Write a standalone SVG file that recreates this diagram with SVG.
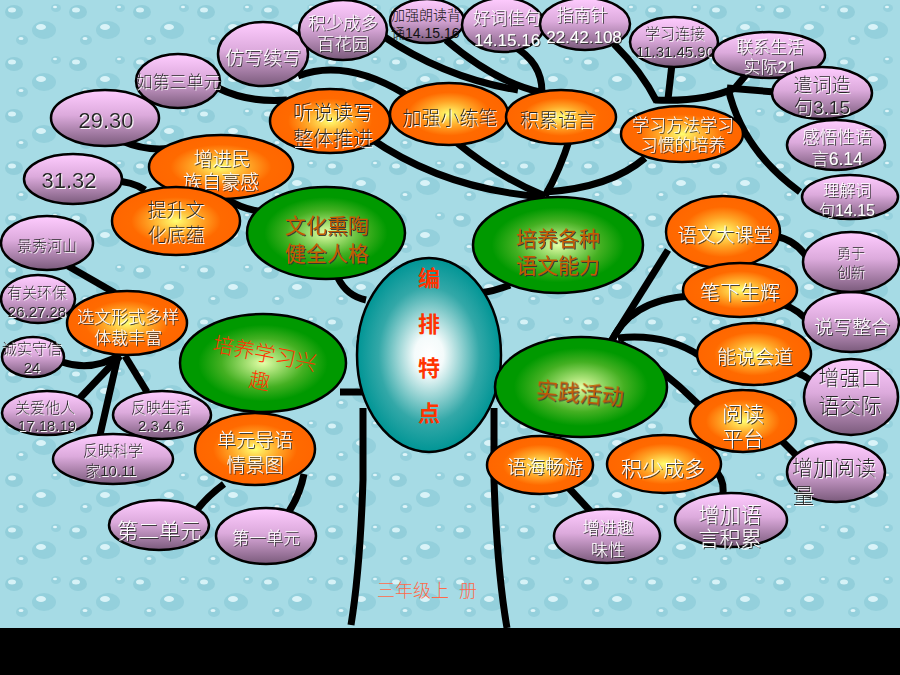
<svg xmlns="http://www.w3.org/2000/svg" width="900" height="675" viewBox="0 0 900 675">
<defs>
<pattern id="drops" width="64" height="52" patternUnits="userSpaceOnUse">
<rect width="64" height="52" fill="#a6dbe5"/>
<ellipse cx="14" cy="12" rx="9" ry="7" fill="#92ceda"/>
<ellipse cx="12" cy="10" rx="4" ry="2.5" fill="#d6f2f7"/>
<ellipse cx="44" cy="30" rx="12" ry="9" fill="#94d0dc"/>
<ellipse cx="41" cy="27" rx="5" ry="3" fill="#d9f3f8"/>
<ellipse cx="22" cy="40" rx="6" ry="5" fill="#95d0dc"/>
<ellipse cx="21" cy="38.5" rx="2.5" ry="1.6" fill="#dff5f9"/>
<ellipse cx="56" cy="8" rx="5" ry="4" fill="#96d1dd"/>
<ellipse cx="55" cy="7" rx="2" ry="1.3" fill="#e0f5f9"/>
</pattern>
<radialGradient id="gOrange" cx="50%" cy="50%" r="50%">
<stop offset="0" stop-color="#ffff70"/>
<stop offset="0.4" stop-color="#ffa526"/>
<stop offset="0.7" stop-color="#ff6a00"/>
<stop offset="1" stop-color="#ff6600"/>
</radialGradient>
<radialGradient id="gGreen" cx="50%" cy="50%" r="50%">
<stop offset="0" stop-color="#e4ffa8"/>
<stop offset="0.5" stop-color="#44b022"/>
<stop offset="0.78" stop-color="#009900"/>
<stop offset="1" stop-color="#009900"/>
</radialGradient>
<radialGradient id="gTeal" cx="50%" cy="50%" r="50%">
<stop offset="0" stop-color="#ffffff"/>
<stop offset="0.2" stop-color="#f4fbfb"/>
<stop offset="0.7" stop-color="#33a8a8"/>
<stop offset="1" stop-color="#009595"/>
</radialGradient>
<linearGradient id="gPink" x1="0" y1="0" x2="0" y2="1">
<stop offset="0" stop-color="#ffccff"/>
<stop offset="0.45" stop-color="#dcaadc"/>
<stop offset="1" stop-color="#7a5a7b"/>
</linearGradient>
<filter id="shDark" x="-10%" y="-20%" width="120%" height="140%">
<feDropShadow dx="1" dy="1" stdDeviation="0.4" flood-color="#333333" flood-opacity="0.9"/>
</filter>
<filter id="shLight" x="-10%" y="-20%" width="120%" height="140%">
<feDropShadow dx="1" dy="1" stdDeviation="0.4" flood-color="#ffffff" flood-opacity="0.95"/>
</filter>
<style>
text{font-family:"Liberation Sans","Noto Sans CJK SC",sans-serif;text-anchor:middle;font-weight:300;}
.ell{stroke:#000;stroke-width:2.5;}
.or{fill:url(#gOrange);}
.gr{fill:url(#gGreen);}
.pk{fill:url(#gPink);}
.tl{fill:url(#gTeal);}
.wt{fill:#ffffff;filter:url(#shDark);}
.dk{fill:#262626;filter:url(#shLight);}
.gt{fill:#c45c00;filter:url(#shDark);font-weight:400;}
.rd{fill:#ff3300;}
.rdb{fill:#ff3300;font-weight:700;font-size:22px;}
.con path{fill:none;stroke:#000;stroke-width:7;}
</style>
</defs>
<rect x="0" y="0" width="900" height="675" fill="url(#drops)"/>

<g id="connectors" class="con">
<path d="M363,408 L363,480 Q360,570 351,625" stroke-width="8"/>
<path d="M494,408 L494,480 Q497,570 507,628" stroke-width="8"/>
<path d="M298,76 Q345,58 405,94"/>
<path d="M383,36 Q445,78 518,90"/>
<path d="M446,40 Q495,82 540,92"/>
<path d="M513,46 Q542,62 542,92"/>
<path d="M218,88 Q248,103 287,100"/>
<path d="M122,141 Q150,153 178,147"/>
<path d="M112,181 Q132,181 145,190"/>
<path d="M224,198 Q248,212 268,212"/>
<path d="M370,138 Q445,190 545,197"/>
<path d="M456,142 Q500,178 545,196"/>
<path d="M570,138 Q560,170 545,196"/>
<path d="M645,158 Q610,188 545,192"/>
<path d="M614,44 Q642,72 657,102"/>
<path d="M672,64 L668,99"/>
<path d="M655,100 Q705,102 735,88 L746,75"/>
<path d="M727,88 L775,92"/>
<path d="M728,88 Q742,150 800,192"/>
<path d="M338,278 Q347,296 366,300"/>
<path d="M480,293 Q495,291 510,285"/>
<path d="M340,392 L365,392"/>
<path d="M608,346 L668,250"/>
<path d="M610,345 Q628,300 690,296"/>
<path d="M618,338 Q665,333 700,356"/>
<path d="M620,343 Q662,368 698,404"/>
<path d="M775,236 Q795,240 806,256"/>
<path d="M782,304 Q800,310 810,324"/>
<path d="M795,372 Q812,378 824,394"/>
<path d="M782,441 L803,462"/>
<path d="M567,486 L592,513"/>
<path d="M717,472 Q726,484 722,498"/>
<path d="M68,266 L115,293"/>
<path d="M62,362 Q92,372 120,355"/>
<path d="M80,398 L120,356"/>
<path d="M100,435 L118,356"/>
<path d="M147,392 L125,356"/>
<path d="M224,484 Q205,498 194,514"/>
<path d="M304,474 Q300,495 288,513"/>
</g>

<g id="center">
<ellipse class="ell tl" cx="429" cy="355" rx="72" ry="97"/>
<text class="rdb" x="429" y="286">编</text>
<text class="rdb" x="429" y="332">排</text>
<text class="rdb" x="429" y="376">特</text>
<text class="rdb" x="429" y="421">点</text>
</g>

<g id="n-wenhua">
<ellipse class="ell gr" cx="326" cy="233" rx="79" ry="46"/>
<text class="gt" x="327" y="233" font-size="21">文化熏陶</text>
<text class="gt" x="327" y="261" font-size="21">健全人格</text>
</g>
<g id="n-peiyang">
<ellipse class="ell gr" cx="558" cy="245" rx="85" ry="48"/>
<text class="gt" x="558" y="246" font-size="21">培养各种</text>
<text class="gt" x="558" y="273" font-size="21">语文能力</text>
</g>
<g id="n-xingqu">
<ellipse class="ell gr" cx="263" cy="363" rx="83" ry="49"/>
<g transform="rotate(11 263 363)">
<text class="rd" x="263" y="361" font-size="21">培养学习兴</text>
<text class="rd" x="263" y="389" font-size="21">趣</text>
</g>
</g>
<g id="n-shijian">
<ellipse class="ell gr" cx="581" cy="387" rx="86" ry="50"/>
<text class="gt" x="580" y="401" font-size="22" transform="rotate(5 580 393)">实践活动</text>
</g>

<g id="n-tingshuo">
<ellipse class="ell or" cx="330" cy="121" rx="60" ry="32"/>
<text class="dk" x="333" y="120" font-size="20">听说读写</text>
<text class="dk" x="333" y="146" font-size="20">整体推进</text>
</g>
<g id="n-lianbi">
<ellipse class="ell or" cx="449" cy="114" rx="59" ry="31"/>
<text class="dk" x="450" y="125" font-size="19">加强小练笔</text>
</g>
<g id="n-jilei">
<ellipse class="ell or" cx="561" cy="117" rx="55" ry="27"/>
<text class="dk" x="558" y="127" font-size="19">积累语言</text>
</g>
<g id="n-fangfa">
<ellipse class="ell or" cx="682" cy="134" rx="61" ry="28"/>
<text class="wt" x="683" y="131" font-size="17">学习方法学习</text>
<text class="wt" x="683" y="151" font-size="17">习惯的培养</text>
</g>
<g id="n-zijin">
<ellipse class="ell or" cx="221" cy="167" rx="72" ry="32"/>
<text class="wt" x="222" y="166" font-size="19">增进民</text>
<text class="wt" x="221" y="189" font-size="19">族自豪感</text>
</g>
<g id="n-tisheng">
<ellipse class="ell or" cx="176" cy="221" rx="64" ry="34"/>
<text class="dk" x="176" y="217" font-size="19">提升文</text>
<text class="dk" x="176" y="242" font-size="19">化底蕴</text>
</g>
<g id="n-xuanwen">
<ellipse class="ell or" cx="127" cy="323" rx="60" ry="32"/>
<text class="wt" x="128" y="323" font-size="17">选文形式多样</text>
<text class="wt" x="128" y="344" font-size="17">体裁丰富</text>
</g>
<g id="n-daoyu">
<ellipse class="ell or" cx="255" cy="449" rx="60" ry="36"/>
<text class="wt" x="255" y="447" font-size="19">单元导语</text>
<text class="wt" x="255" y="472" font-size="19">情景图</text>
</g>
<g id="n-daketang">
<ellipse class="ell or" cx="723" cy="232" rx="57" ry="36"/>
<text class="wt" x="725" y="242" font-size="19">语文大课堂</text>
</g>
<g id="n-bixia">
<ellipse class="ell or" cx="740" cy="290" rx="57" ry="27"/>
<text class="wt" x="740" y="300" font-size="20">笔下生辉</text>
</g>
<g id="n-nengshuo">
<ellipse class="ell or" cx="754" cy="354" rx="57" ry="31"/>
<text class="wt" x="755" y="364" font-size="19">能说会道</text>
</g>
<g id="n-yuedu">
<ellipse class="ell or" cx="743" cy="421" rx="53" ry="31"/>
<text class="wt" x="743" y="421" font-size="21">阅读</text>
<text class="wt" x="743" y="446" font-size="21">平台</text>
</g>
<g id="n-yuhai">
<ellipse class="ell or" cx="540" cy="465" rx="53" ry="29"/>
<text class="wt" x="545" y="474" font-size="19">语海畅游</text>
</g>
<g id="n-jishao">
<ellipse class="ell or" cx="664" cy="464" rx="57" ry="29"/>
<text class="wt" x="663" y="476" font-size="21">积少成多</text>
</g>

<g id="p-fangxie">
<ellipse class="ell pk" cx="263" cy="54" rx="45" ry="32"/>
<text class="wt" x="263" y="65" font-size="19">仿写续写</text>
</g>
<g id="p-baihua">
<ellipse class="ell pk" cx="343" cy="30" rx="44" ry="30"/>
<text class="wt" x="343" y="29" font-size="17.5">积少成多</text>
<text class="wt" x="343" y="50" font-size="17.5">百花园</text>
</g>
<g id="p-langdu">
<ellipse class="ell pk" cx="427" cy="21" rx="37" ry="22"/>
<text x="391" y="20" font-size="14" fill="#111" style="text-anchor:start">加强朗读背</text>
<text x="391" y="38" font-size="14" fill="#111" style="text-anchor:start">诵14.15.16</text>
</g>
<g id="p-haoci">
<ellipse class="ell pk" cx="503" cy="25" rx="41" ry="27"/>
<text class="wt" x="507" y="24" font-size="17">好词佳句</text>
<text class="wt" x="507" y="46" font-size="17">14.15.16</text>
</g>
<g id="p-zhinan">
<ellipse class="ell pk" cx="585" cy="24" rx="45" ry="26"/>
<text class="wt" x="582" y="21" font-size="17">指南针</text>
<text class="wt" x="584" y="43" font-size="17">22.42.108</text>
</g>
<g id="p-lianjie">
<ellipse class="ell pk" cx="674" cy="42" rx="44" ry="25"/>
<text class="dk" x="675" y="39" font-size="15">学习连接</text>
<text class="dk" x="675" y="57" font-size="15">11.31.45.90</text>
</g>
<g id="p-lianxi">
<ellipse class="ell pk" cx="769" cy="55" rx="56" ry="23"/>
<text class="wt" x="770" y="53" font-size="17">联系生活</text>
<text class="wt" x="770" y="73" font-size="17">实际21</text>
</g>
<g id="p-qianci">
<ellipse class="ell pk" cx="822" cy="93" rx="50" ry="26"/>
<text class="dk" x="822" y="92" font-size="19">遣词造</text>
<text class="dk" x="822" y="114" font-size="19">句3.15</text>
</g>
<g id="p-ganwu">
<ellipse class="ell pk" cx="836" cy="145" rx="49" ry="25"/>
<text class="wt" x="837" y="143" font-size="17.5">感悟性语</text>
<text class="wt" x="837" y="165" font-size="17.5">言6.14</text>
</g>
<g id="p-lijie">
<ellipse class="ell pk" cx="850" cy="197" rx="48" ry="22"/>
<text class="wt" x="847" y="196" font-size="16">理解词</text>
<text class="wt" x="847" y="216" font-size="16">句14.15</text>
</g>
<g id="p-ru3">
<ellipse class="ell pk" cx="178" cy="81" rx="42" ry="27"/>
<text class="dk" x="178" y="88" font-size="17">如第三单元</text>
</g>
<g id="p-2930">
<ellipse class="ell pk" cx="105" cy="118" rx="54" ry="28"/>
<text class="dk" x="106" y="128" font-size="22">29.30</text>
</g>
<g id="p-3132">
<ellipse class="ell pk" cx="73" cy="179" rx="49" ry="25"/>
<text class="dk" x="69" y="188" font-size="22">31.32</text>
</g>
<g id="p-jingxiu">
<ellipse class="ell pk" cx="47" cy="243" rx="46" ry="27"/>
<text class="dk" x="47" y="251" font-size="15">景秀河山</text>
</g>
<g id="p-huanbao">
<ellipse class="ell pk" cx="38" cy="299" rx="37" ry="24"/>
<text class="dk" x="37" y="298" font-size="15">有关环保</text>
<text class="dk" x="37" y="317" font-size="15">26.27.28</text>
</g>
<g id="p-chengshi">
<ellipse class="ell pk" cx="33" cy="357" rx="31" ry="20"/>
<text class="dk" x="32" y="354" font-size="15">诚实守信</text>
<text class="dk" x="32" y="373" font-size="15">24</text>
</g>
<g id="p-guanai">
<ellipse class="ell pk" cx="47" cy="413" rx="45" ry="22"/>
<text class="dk" x="45" y="413" font-size="15">关爱他人</text>
<text class="dk" x="47" y="431" font-size="15">17.18.19</text>
</g>
<g id="p-shenghuo">
<ellipse class="ell pk" cx="162" cy="415" rx="49" ry="24"/>
<text class="dk" x="161" y="413" font-size="15">反映生活</text>
<text class="dk" x="161" y="431" font-size="15">2.3.4.6</text>
</g>
<g id="p-kexue">
<ellipse class="ell pk" cx="113" cy="459" rx="60" ry="25"/>
<text class="dk" x="113" y="456" font-size="15">反映科学</text>
<text class="dk" x="111" y="476" font-size="15">家10.11</text>
</g>
<g id="p-di2">
<ellipse class="ell pk" cx="159" cy="525" rx="50" ry="25"/>
<text class="wt" x="159" y="538" font-size="21">第二单元</text>
</g>
<g id="p-di1">
<ellipse class="ell pk" cx="266" cy="536" rx="50" ry="28"/>
<text class="wt" x="266" y="544" font-size="17">第一单元</text>
</g>
<g id="p-quwei">
<ellipse class="ell pk" cx="607" cy="536" rx="53" ry="27"/>
<text class="wt" x="608" y="534" font-size="17">增进趣</text>
<text class="wt" x="608" y="556" font-size="17">味性</text>
</g>
<g id="p-jilei2">
<ellipse class="ell pk" cx="731" cy="520" rx="56" ry="27"/>
<text class="wt" x="730" y="522" font-size="21">增加语</text>
<text class="wt" x="730" y="546" font-size="21">言积累</text>
</g>
<g id="p-yuedul">
<ellipse class="ell pk" cx="836" cy="472" rx="49" ry="30"/>
<text class="dk" x="792" y="475" font-size="21" style="text-anchor:start">增加阅读</text>
<text class="dk" x="793" y="503" font-size="21" style="text-anchor:start">量</text>
</g>
<g id="p-kouyu">
<ellipse class="ell pk" cx="851" cy="397" rx="47" ry="38"/>
<text class="dk" x="850" y="385" font-size="21">增强口</text>
<text class="dk" x="850" y="413" font-size="21">语交际</text>
</g>
<g id="p-shuoxie">
<ellipse class="ell pk" cx="851" cy="322" rx="48" ry="30"/>
<text class="wt" x="852" y="334" font-size="19">说写整合</text>
</g>
<g id="p-yongyu">
<ellipse class="ell pk" cx="851" cy="262" rx="48" ry="30"/>
<text class="dk" x="851" y="258" font-size="14">勇于</text>
<text class="dk" x="851" y="277" font-size="14">创新</text>
</g>

<text x="377" y="597" font-size="18" fill="#ff6a4a" style="text-anchor:start">三年级上<tspan dx="10">册</tspan></text>
<rect x="0" y="628" width="900" height="47" fill="#000"/>
</svg>
